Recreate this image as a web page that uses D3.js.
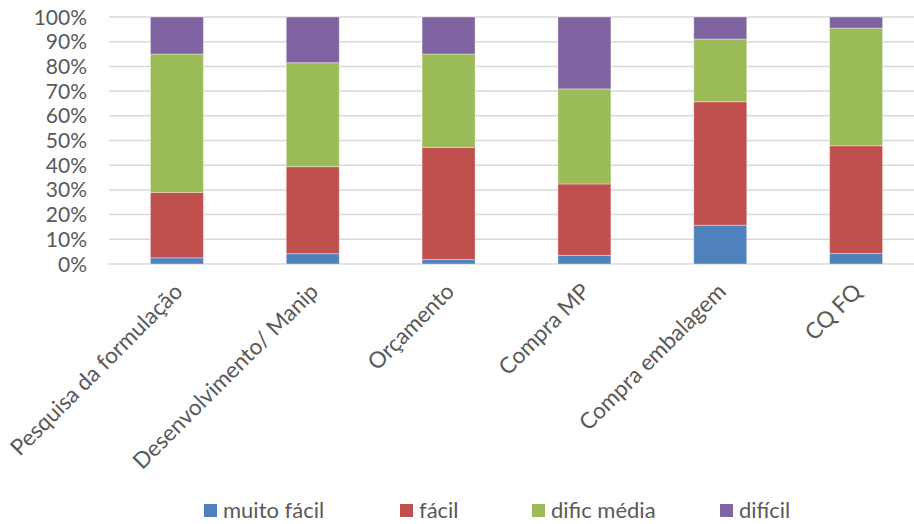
<!DOCTYPE html>
<html>
<head>
<meta charset="utf-8">
<script src="https://cdn.jsdelivr.net/npm/d3@7"></script>
<style>
  body { margin: 0; background: #fff; }
  svg text { font-family: Lato, "Open Sans", sans-serif; fill: #595959; }
</style>
</head>
<body>
<svg id="chart" width="914" height="524"></svg>
<script>
// data (percent of answers)
const categories = ["Pesquisa da formulação", "Desenvolvimento/ Manip", "Orçamento", "Compra MP", "Compra embalagem", "CQ FQ"]
const series_names = ["muito fácil", "fácil", "dific média", "difícil"]
const muito_facil = [2.5, 4.2, 1.8, 3.5, 15.7, 4.3]
const facil = [26.5, 35.2, 45.4, 28.9, 50.0, 43.6]
const dific_media = [56.0, 42.1, 37.8, 38.5, 25.4, 47.6]
const dificil = [15.0, 18.5, 15.0, 29.1, 8.9, 4.5]
const y_ticks = [0, 10, 20, 30, 40, 50, 60, 70, 80, 90, 100]

const colours = ["#4f81bd", "#c0504d", "#9bbb59", "#8064a2"]

function visualize() {
  let svg = d3.select("#chart")

  // table for the stack layout
  let rows = categories.map((c, i) => ({
    cat: c,
    "muito fácil": muito_facil[i],
    "fácil": facil[i],
    "dific média": dific_media[i],
    "difícil": dificil[i]
  }))
  let stacked = d3.stack().keys(series_names)(rows)

  let x = d3.scaleBand()
    .domain(categories)
    .range([109, 924])
    .paddingInner(0.61)
    .paddingOuter(0.305)
  let y = d3.scaleLinear()
    .domain([0, 100])
    .range([264, 17])

  // gridlines
  svg.append("g")
    .selectAll("line")
    .data(y_ticks).enter()
    .append("line")
    .attr("x1", 109)
    .attr("x2", 924)
    .attr("y1", d => y(d))
    .attr("y2", d => y(d))
    .attr("stroke", "#d9d9d9")
    .attr("stroke-width", 1.5)

  // y tick labels
  svg.append("g")
    .selectAll("text")
    .data(y_ticks).enter()
    .append("text")
    .attr("x", 87)
    .attr("y", d => y(d))
    .attr("dy", "0.36em")
    .attr("text-anchor", "end")
    .attr("font-size", 21)
    .text(d => d + "%")

  // stacked bars
  svg.append("g")
    .selectAll("g")
    .data(stacked).enter()
    .append("g")
    .attr("fill", (d, i) => colours[i])
    .selectAll("rect")
    .data(d => d).enter()
    .append("rect")
    .attr("x", d => x(d.data.cat))
    .attr("width", x.bandwidth())
    .attr("y", d => y(d[1]))
    .attr("height", d => y(d[0]) - y(d[1]))
    .attr("stroke", "#fff")
    .attr("stroke-opacity", 0.35)
    .attr("stroke-width", 1)

  // rotated category labels
  svg.append("g")
    .selectAll("text")
    .data(categories).enter()
    .append("text")
    .attr("transform", d => `translate(${x(d) + x.bandwidth() / 2 + 7}, 293) rotate(-45)`)
    .attr("text-anchor", "end")
    .attr("font-size", 22.5)
    .text(d => d)

  // legend
  let legend_x = [204, 400, 532, 720]
  let legend = svg.append("g")
    .selectAll("g")
    .data(series_names).enter()
    .append("g")
    .attr("transform", (d, i) => `translate(${legend_x[i]}, 504)`)
  legend.append("rect")
    .attr("width", 13)
    .attr("height", 13)
    .attr("fill", (d, i) => colours[i])
  legend.append("text")
    .attr("x", 19)
    .attr("y", 6.5)
    .attr("dy", "0.36em")
    .attr("font-size", 22)
    .text(d => d)
}

visualize()
</script>
</body>
</html>
